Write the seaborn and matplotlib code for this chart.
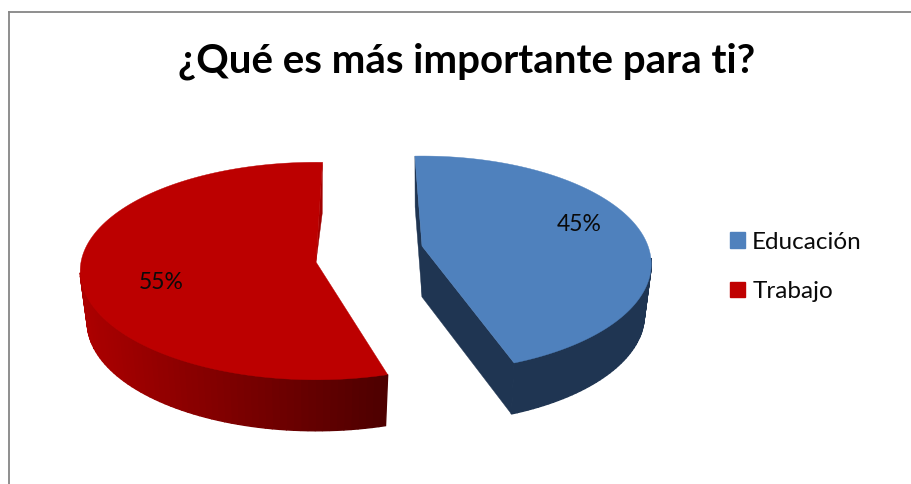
# exploded 3d style pie, Educacion vs Trabajo

import numpy as np
import seaborn as sns
import matplotlib.pyplot as plt
from matplotlib.colors import LinearSegmentedColormap
from matplotlib.patches import Patch

categories = ['Educación', 'Trabajo']
values = [45, 55]
title = '¿Qué es más importante para ti?'

sns.set_theme(style='white')
plt.rcParams['font.family'] = ['Lato', 'DejaVu Sans']

top_colors = ['#4F81BD', '#BC0000']
legend_colors = ['#4F81BD', '#C00000']
wall_colors = [('#1F3552', '#1F3552'), ('#AC0000', '#4E0000')]
face_colors = ['#1F3552', '#A00000']

# layout of each slice in pixels: apex x, apex y, radius x, radius y, perspective
slices = [(422, 246, 226, 105, 0.167), (316, 262, 235, 108, 0.083)]
start_angles = [-2.1, 163.7]
depth = 51
shrink = 0.97


def project(theta, r, s, lower=False):
    cx, cy, rx, ry, k = s
    u = r * np.sin(np.radians(theta))
    w = -r * np.cos(np.radians(theta))
    x = rx * u / (1 - k * w)
    y = ry * w / (1 - k * w)
    if lower:
        return cx + shrink * x, cy + y + depth
    return cx + x, cy + y


fig = plt.figure(figsize=(9.12, 4.84), dpi=100)
ax = fig.add_axes([9 / 912, 0, 1 - 9 / 912, 1 - 12 / 484])
ax.set_xlim(9, 912)
ax.set_ylim(484, 12)
ax.set_xticks([])
ax.set_yticks([])
sns.despine(ax=ax, top=False, right=True, bottom=True)
for side in ['left', 'top']:
    ax.spines[side].set_color('#868686')
    ax.spines[side].set_linewidth(1.3)

total = sum(values)
for i, value in enumerate(values):
    s = slices[i]
    sweep = 360 * value / total
    thetas = np.linspace(start_angles[i], start_angles[i] + sweep, 121)

    # flat walls along the cut edges, the red one only shows as a sliver at the back
    x0, y0 = project(thetas[-1], 0, s)
    x1, y1 = project(thetas[-1], 1, s)
    x2, y2 = project(thetas[-1], 1, s, lower=True)
    if i == 0:
        x3, y3 = project(thetas[-1], 0, s, lower=True)
        ax.fill([x0, x1, x2, x3], [y0, y1, y2, y3], color=face_colors[i], lw=0.3)
        x0, y0 = project(thetas[0], 0, s)
        x1, y1 = project(thetas[0], 1, s)
        x2, y2 = project(thetas[0], 1, s, lower=True)
        x3, y3 = project(thetas[0], 0, s, lower=True)
        ax.fill([x0, x1, x2, x3], [y0, y1, y2, y3], color=face_colors[i], lw=0.3)
    else:
        ax.fill([x0, x1, x2], [y0, y1, y2], color=face_colors[i], lw=0.3)

    # rounded wall, darker to the right, back part stays hidden
    cmap = LinearSegmentedColormap.from_list('wall', wall_colors[i])
    xt, yt = project(thetas, 1, s)
    xb, yb = project(thetas, 1, s, lower=True)
    for j in range(len(thetas) - 1):
        if -np.cos(np.radians(thetas[j])) < 0.1:
            continue
        pos = (xt[j] - xt.min()) / (xt.max() - xt.min())
        ax.fill([xt[j], xt[j + 1], xb[j + 1], xb[j]], [yt[j], yt[j + 1], yb[j + 1], yb[j]],
                color=cmap(pos), lw=1)

    # top face
    ax.fill(np.r_[s[0], xt], np.r_[s[1], yt], color=top_colors[i], lw=0.3)

# percent labels
ax.text(579, 224, '%d%%' % values[0], fontsize=16.5, color='#0A0A0A', ha='center', va='center')
ax.text(161, 282, '%d%%' % values[1], fontsize=16.5, color='#0A0A0A', ha='center', va='center')

handles = [Patch(color=c, label=n) for c, n in zip(legend_colors, categories)]
ax.legend(handles=handles, loc='center left', bbox_to_anchor=(699 / 903, 0.46), frameon=False,
          fontsize=17.5, handlelength=0.62, handleheight=0.62, handletextpad=0.3, labelspacing=1.16,
          labelcolor='#0A0A0A')

fig.text(467 / 912, 1 - 61 / 484, title, fontsize=29, fontweight='bold', color='#000000',
         ha='center', va='center')

fig.savefig('out.png', dpi=100)
